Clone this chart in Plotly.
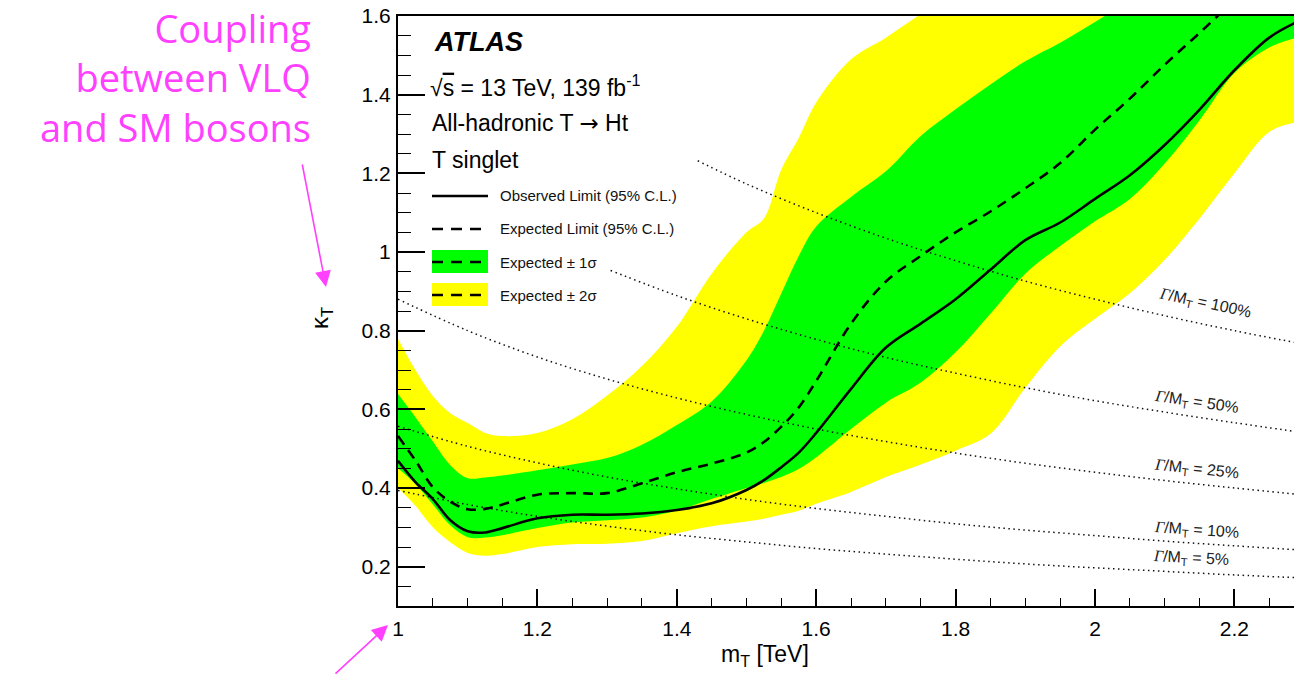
import plotly.graph_objects as go

# ---------------- data ----------------
mass = [1.00, 1.025, 1.05, 1.075, 1.10, 1.125, 1.15, 1.20, 1.25, 1.30, 1.35, 1.40, 1.45, 1.50, 1.525,
        1.55, 1.575, 1.60, 1.65, 1.70, 1.75, 1.80, 1.85, 1.90, 1.95, 2.00, 2.05, 2.10, 2.15, 2.20, 2.25, 2.29]
observed = [0.469, 0.415, 0.372, 0.318, 0.290, 0.287, 0.298, 0.323, 0.332, 0.332, 0.335, 0.344, 0.361, 0.395, 0.420,
            0.453, 0.490, 0.540, 0.652, 0.757, 0.818, 0.880, 0.955, 1.030, 1.075, 1.135, 1.195, 1.272, 1.362, 1.462, 1.545, 1.585]
expected = [0.532, 0.470, 0.402, 0.365, 0.346, 0.347, 0.358, 0.383, 0.387, 0.387, 0.412, 0.440, 0.462, 0.490, 0.517,
            0.556, 0.605, 0.672, 0.818, 0.925, 0.990, 1.050, 1.103, 1.162, 1.226, 1.311, 1.390, 1.476, 1.557, 1.640, 1.720, 1.780]
sigma1_up = [0.639, 0.580, 0.518, 0.458, 0.425, 0.427, 0.432, 0.445, 0.460, 0.476, 0.510, 0.560, 0.620, 0.725, 0.800,
             0.895, 0.990, 1.065, 1.140, 1.205, 1.295, 1.363, 1.426, 1.485, 1.532, 1.585, 1.640, 1.700, 1.760, 1.820, 1.880, 1.920]
sigma1_dn = [0.450, 0.410, 0.358, 0.305, 0.275, 0.274, 0.280, 0.298, 0.312, 0.318, 0.325, 0.343, 0.372, 0.400, 0.413,
             0.428, 0.448, 0.478, 0.550, 0.617, 0.668, 0.745, 0.843, 0.945, 1.015, 1.078, 1.135, 1.225, 1.335, 1.455, 1.520, 1.545]
sigma2_up = [0.779, 0.700, 0.634, 0.590, 0.565, 0.540, 0.532, 0.540, 0.575, 0.635, 0.710, 0.810, 0.945, 1.050, 1.085,
             1.210, 1.290, 1.380, 1.490, 1.545, 1.605, 1.660, 1.720, 1.780, 1.840, 1.900, 1.960, 2.000, 2.050, 2.100, 2.150, 2.180]
sigma2_dn = [0.400, 0.355, 0.300, 0.262, 0.235, 0.228, 0.232, 0.250, 0.257, 0.258, 0.265, 0.285, 0.303, 0.315, 0.322,
             0.332, 0.342, 0.360, 0.390, 0.428, 0.460, 0.495, 0.538, 0.655, 0.760, 0.830, 0.895, 0.980, 1.085, 1.200, 1.305, 1.330]

# width contours Gamma/M_T
width_mass = [1.00, 1.10, 1.20, 1.30, 1.40, 1.50, 1.60, 1.70, 1.80, 1.90, 2.00, 2.10, 2.20, 2.29]
w100_mass = [1.43, 1.50, 1.60, 1.70, 1.80, 1.90, 2.00, 2.10, 2.20, 2.29]
w100_k = [1.232, 1.173, 1.100, 1.035, 0.978, 0.926, 0.880, 0.838, 0.800, 0.769]
w50_mass = [1.305, 1.40, 1.50, 1.60, 1.70, 1.80, 1.90, 2.00, 2.10, 2.20, 2.29]
w50_k = [0.953, 0.889, 0.830, 0.778, 0.732, 0.692, 0.655, 0.622, 0.593, 0.566, 0.543]
w25_k = [0.880, 0.800, 0.733, 0.677, 0.629, 0.587, 0.550, 0.518, 0.489, 0.463, 0.440, 0.419, 0.400, 0.384]
w10_k = [0.557, 0.506, 0.464, 0.428, 0.398, 0.371, 0.348, 0.328, 0.309, 0.293, 0.279, 0.265, 0.253, 0.243]
w5_k = [0.394, 0.358, 0.328, 0.303, 0.281, 0.263, 0.246, 0.232, 0.219, 0.207, 0.197, 0.188, 0.179, 0.172]

width_labels = ["100%", "50%", "25%", "10%", "5%"]
width_label_pos = [(2.158, 0.868, 12), (2.146, 0.618, 8.5), (2.146, 0.447, 6), (2.146, 0.291, 4), (2.138, 0.222, 3)]

legend_texts = ["Observed Limit (95% C.L.)", "Expected Limit (95% C.L.)", "Expected \u00b1 1\u03c3", "Expected \u00b1 2\u03c3"]

# ---------------- layout helpers (pixel -> paper) ----------------
W, H = 1294, 675
L, R, T, B = 398, 1294, 16, 606
def px(x):
    return (x - L) / (R - L)
def py(y):
    return (B - y) / (B - T)

FONT = "Liberation Sans, Arial, Helvetica, sans-serif"
PINK = "#ff40ff"

fig = go.Figure()

# 2 sigma band
fig.add_trace(go.Scatter(x=mass, y=sigma2_dn, mode="lines", line=dict(width=0, shape="spline"),
                         showlegend=False, hoverinfo="skip"))
fig.add_trace(go.Scatter(x=mass, y=sigma2_up, mode="lines", line=dict(width=0, shape="spline"),
                         fill="tonexty", fillcolor="#ffff00", showlegend=False, hoverinfo="skip"))
# 1 sigma band
fig.add_trace(go.Scatter(x=mass, y=sigma1_dn, mode="lines", line=dict(width=0, shape="spline"),
                         showlegend=False, hoverinfo="skip"))
fig.add_trace(go.Scatter(x=mass, y=sigma1_up, mode="lines", line=dict(width=0, shape="spline"),
                         fill="tonexty", fillcolor="#00ff00", showlegend=False, hoverinfo="skip"))

# width contours
dot = dict(color="#111111", width=1.5, dash="1.5px,3.5px", shape="spline")
for xs, ys in [(w100_mass, w100_k), (w50_mass, w50_k), (width_mass, w25_k), (width_mass, w10_k), (width_mass, w5_k)]:
    fig.add_trace(go.Scatter(x=xs, y=ys, mode="lines", line=dot, showlegend=False, hoverinfo="skip"))

# expected and observed
fig.add_trace(go.Scatter(x=mass, y=expected, mode="lines",
                         line=dict(color="black", width=2.6, dash="10px,7px", shape="spline"),
                         showlegend=False))
fig.add_trace(go.Scatter(x=mass, y=observed, mode="lines",
                         line=dict(color="black", width=2.6, shape="spline"),
                         showlegend=False))

annotations = []
shapes = []

# width labels
for lab, (xm, yk, ang) in zip(width_labels, width_label_pos):
    annotations.append(dict(
        x=xm, y=yk, xref="x", yref="y", showarrow=False, textangle=ang,
        text='<span style="font-family:Liberation Serif"><i>\u0393</i></span>/M<sub>T</sub> = ' + lab,
        font=dict(family=FONT, size=16, color="#222222")))

# header texts
annotations += [
    dict(x=px(432), y=py(42), xref="paper", yref="paper", xanchor="left", yanchor="middle", showarrow=False,
         text="<b><i>ATLAS</i></b>", font=dict(family=FONT, size=27, color="black")),
    dict(x=px(428), y=py(86), xref="paper", yref="paper", xanchor="left", yanchor="middle", showarrow=False,
         text='\u221a<span style="text-decoration:overline">s</span> = 13 TeV, 139 fb<sup>-1</sup>',
         font=dict(family=FONT, size=23, color="black")),
    dict(x=px(430), y=py(123), xref="paper", yref="paper", xanchor="left", yanchor="middle", showarrow=False,
         text='All-hadronic T <span style="font-family:DejaVu Sans">\u2192</span> Ht',
         font=dict(family=FONT, size=23, color="black")),
    dict(x=px(430), y=py(160), xref="paper", yref="paper", xanchor="left", yanchor="middle", showarrow=False,
         text="T singlet", font=dict(family=FONT, size=23, color="black")),
]

# legend
leg_y = [196, 229, 262, 295]
for txt, yy in zip(legend_texts, leg_y):
    annotations.append(dict(x=px(498), y=py(yy), xref="paper", yref="paper", xanchor="left", yanchor="middle",
                            showarrow=False, text=txt, font=dict(family=FONT, size=15, color="#111111")))
shapes.append(dict(type="rect", xref="paper", yref="paper", x0=px(432), x1=px(488), y0=py(250), y1=py(273),
                   fillcolor="#00ff00", line=dict(width=0)))
shapes.append(dict(type="rect", xref="paper", yref="paper", x0=px(432), x1=px(488), y0=py(283), y1=py(306),
                   fillcolor="#ffff00", line=dict(width=0)))
shapes.append(dict(type="line", xref="paper", yref="paper", x0=px(432), x1=px(488), y0=py(196), y1=py(196),
                   line=dict(color="black", width=2.6)))
for yy in leg_y[1:]:
    shapes.append(dict(type="line", xref="paper", yref="paper", x0=px(432), x1=px(488), y0=py(yy), y1=py(yy),
                       line=dict(color="black", width=2.6, dash="11px,8px")))

# axis titles
annotations += [
    dict(x=px(765), y=py(655), xref="paper", yref="paper", showarrow=False, xanchor="center", yanchor="middle",
         text="m<sub>T</sub> [TeV]", font=dict(family=FONT, size=23, color="black")),
    dict(x=px(322), y=py(318), xref="paper", yref="paper", showarrow=False, xanchor="center", yanchor="middle",
         textangle=-90, text="\u03ba<sub>T</sub>", font=dict(family=FONT, size=24, color="black")),
]

# pink commentary
annotations += [
    dict(x=px(313), y=py(0), xref="paper", yref="paper", showarrow=False, xanchor="right", yanchor="top",
         align="right", text="Coupling<br>between VLQ<br>and SM bosons",
         font=dict(family="Open Sans", size=38, color=PINK)),
    dict(x=px(326), y=py(287), xref="paper", yref="paper", text="", showarrow=True,
         ax=-24, ay=-124, arrowhead=2, arrowsize=2, arrowwidth=1.6, arrowcolor=PINK, standoff=0),
    dict(x=px(388), y=py(625), xref="paper", yref="paper", text="", showarrow=True,
         ax=-54, ay=52, arrowhead=2, arrowsize=2, arrowwidth=1.6, arrowcolor=PINK, standoff=0),
]

fig.update_layout(
    template="none",
    width=W, height=H,
    margin=dict(l=L, r=W - R, t=T, b=H - B, pad=0),
    paper_bgcolor="white", plot_bgcolor="white",
    showlegend=False,
    annotations=annotations,
    shapes=shapes,
    xaxis=dict(range=[1.0, 2.2855], showgrid=False, zeroline=False, showline=True, linecolor="black",
               linewidth=2, mirror=True, ticks="inside", ticklen=17, tickwidth=1.6, tickcolor="black",
               tick0=0, dtick=0.2, automargin=False, ticklabelstandoff=3,
               tickfont=dict(family=FONT, size=21, color="black"),
               minor=dict(ticks="inside", ticklen=8, tickwidth=1.4, tickcolor="black", dtick=0.05, showgrid=False)),
    yaxis=dict(range=[0.1, 1.6], showgrid=False, zeroline=False, showline=True, linecolor="black",
               linewidth=2, mirror=False, ticks="inside", ticklen=27, tickwidth=1.6, tickcolor="black",
               tick0=0, dtick=0.2, automargin=False, ticklabelstandoff=1,
               tickfont=dict(family=FONT, size=21, color="black"),
               minor=dict(ticks="inside", ticklen=13, tickwidth=1.4, tickcolor="black", dtick=0.05, showgrid=False)),
)

fig.write_html("out.html")
